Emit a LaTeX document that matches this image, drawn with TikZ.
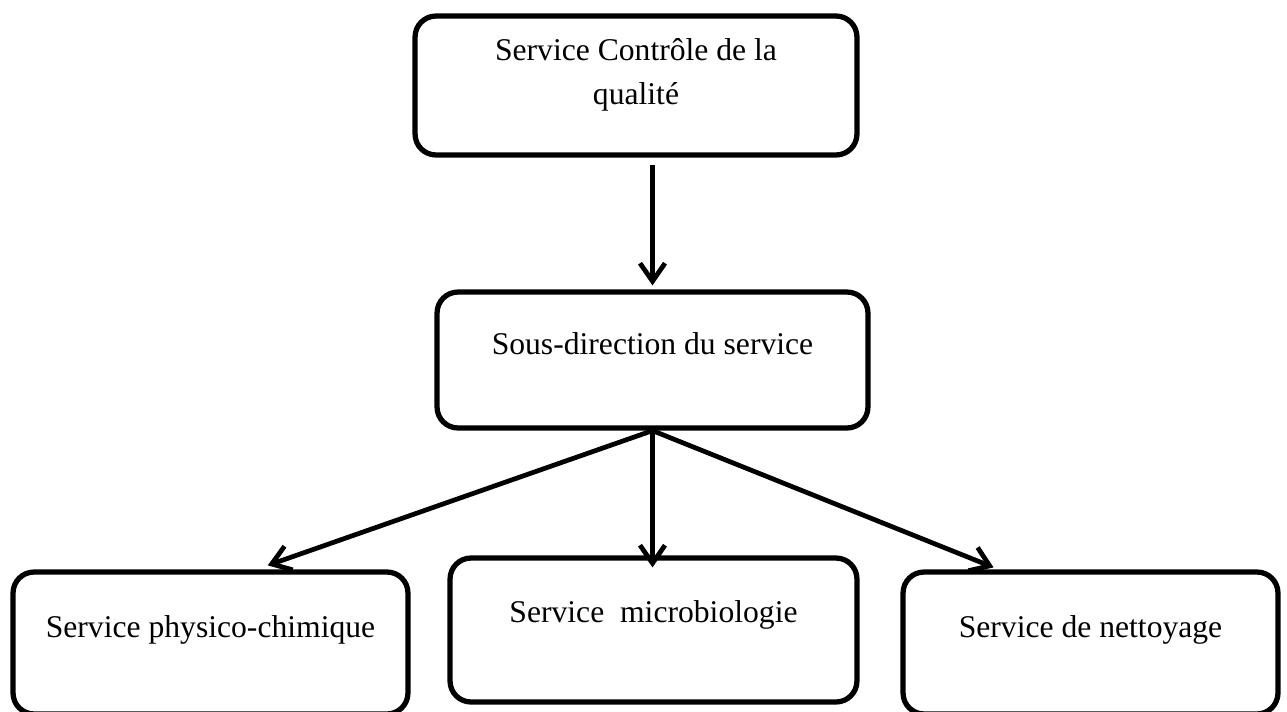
\documentclass[tikz,border=0pt]{standalone}
\usepackage{fontspec}
\setmainfont{Liberation Serif}
\usetikzlibrary{arrows.meta,calc}
\tikzset{
	boite/.style={draw,rounded corners=0.42cm,line width=3pt,inner sep=0pt},
	fleche/.style={line width=2.7pt,-{Straight Barb[length=0.36cm,width=0.5cm]}},
	texte/.style={anchor=base,align=center,font=\fontsize{18}{25}\selectfont}
}
\begin{document}
\begin{tikzpicture}[x=0.02cm,y=-0.02cm]
	\useasboundingbox (0,0) rectangle (1287,711);
	% cadres
	\node[boite,minimum width=8.84cm,minimum height=2.78cm] (qualite) at (636,85.5) {};
	\node[boite,minimum width=8.62cm,minimum height=2.72cm] (sousdir) at (652.5,360) {};
	\node[boite,minimum width=7.9cm,minimum height=2.84cm] (physico) at (210.5,643) {};
	\node[boite,minimum width=8.14cm,minimum height=2.88cm] (microbio) at (653.5,630) {};
	\node[boite,minimum width=7.5cm,minimum height=2.84cm] (nettoyage) at (1090.5,643) {};
	% textes
	\node[texte] (tqualite) at ($(qualite.north)+(0,91)$) {Service Contrôle de la\\qualité};
	\node[texte] (tsousdir) at ($(sousdir.north)+(0,65)$) {Sous-direction du service};
	\node[texte] (tphysico) at ($(physico.north)+(0,68)$) {Service physico-chimique};
	\node[texte] (tmicrobio) at ($(microbio.north)+(0,67)$) {Service\ \ microbiologie};
	\node[texte] (tnettoyage) at ($(nettoyage.north)+(0,68)$) {Service de nettoyage};
	% fleches
	\draw[fleche,shorten <=0.14cm,shorten >=0.08cm] (qualite.south -| sousdir.north) -- (sousdir.north);
	\draw[fleche] (sousdir.south) -- ($(physico.north west)!0.643!(physico.north east)+(0,-4)$);
	\draw[fleche] (sousdir.south) -- ($(sousdir.south |- microbio.north)+(0,12)$);
	\draw[fleche] (sousdir.south) -- ($(nettoyage.north west)!0.245!(nettoyage.north east)+(0,-2)$);
\end{tikzpicture}
\end{document}
